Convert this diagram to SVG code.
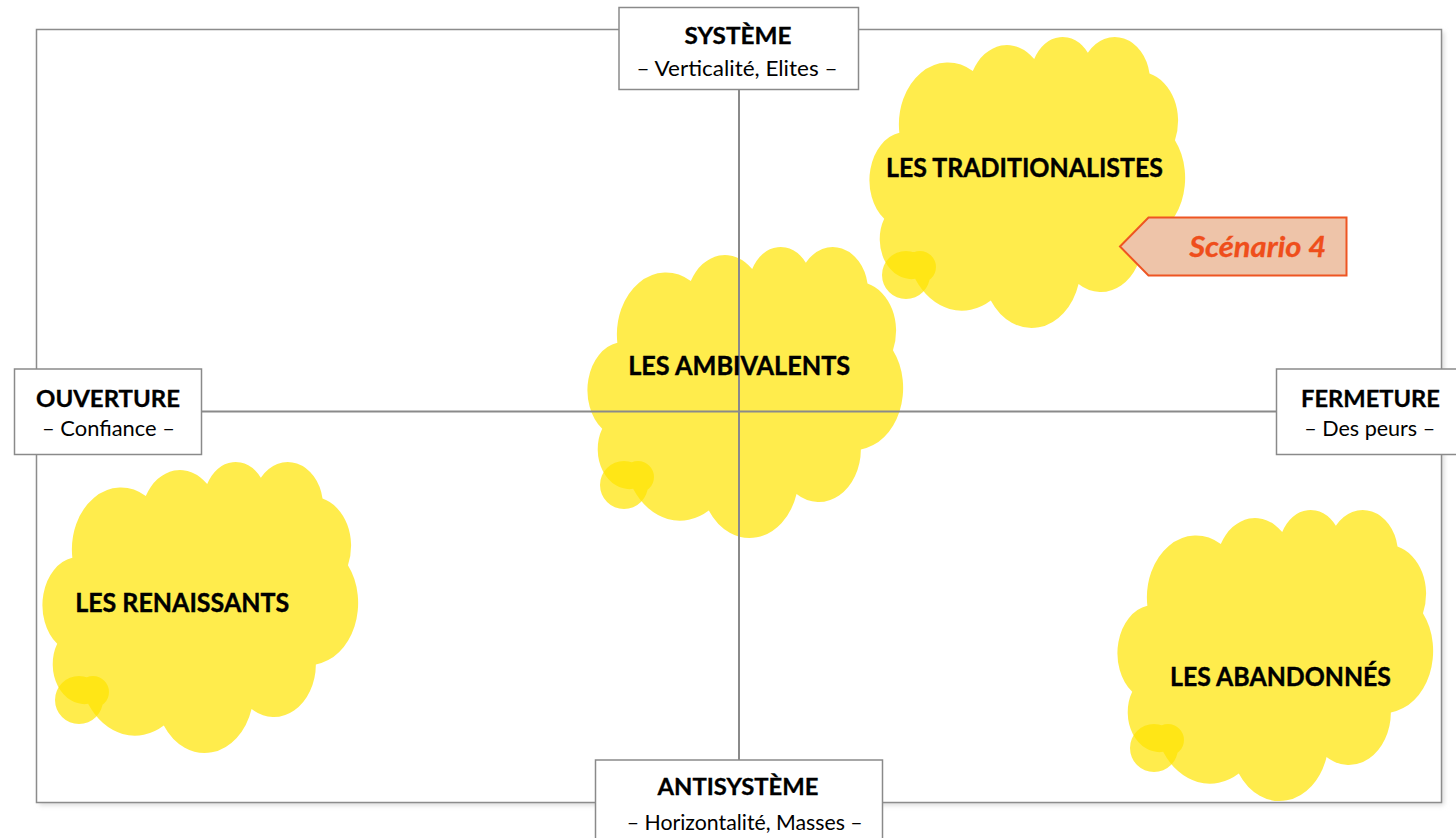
<svg xmlns="http://www.w3.org/2000/svg" xmlns:xlink="http://www.w3.org/1999/xlink" width="1456" height="838" viewBox="0 0 1456 838">
  <style>
    .frame { fill: #ffffff; stroke: #8c8c8c; stroke-width: 1.5; }
    .axis { stroke: #8a8a8a; stroke-width: 2; fill: none; }
    .box { fill: #ffffff; stroke: #8a8a8a; stroke-width: 1.5; }
    .title { font-family: Lato, "Open Sans", "Liberation Sans", sans-serif; font-weight: 700; font-size: 23px; fill: #000000; stroke: #000000; stroke-width: 0.3; text-anchor: middle; }
    .sub { font-family: Lato, "Open Sans", "Liberation Sans", sans-serif; font-weight: 400; font-size: 21px; fill: #000000; text-anchor: middle; }
    .cloud { fill: #ffe400; fill-opacity: 0.7; }
    .label { font-family: Lato, "Open Sans", "Liberation Sans", sans-serif; font-weight: 700; font-size: 26.5px; fill: #000000; stroke: #000000; stroke-width: 0.4; text-anchor: middle; }
    .tag { fill: #eec4a9; stroke: #ee5522; stroke-width: 2; }
    .tagtext { font-family: Lato, "Open Sans", "Liberation Sans", sans-serif; font-weight: 700; font-style: italic; font-size: 29px; fill: #ef4e1b; stroke: #ef4e1b; stroke-width: 0.3; text-anchor: middle; }
  </style>
  <defs>
    <!-- cloud outline, 314 x 291 local box -->
    <path id="cloudShape" d="M28.35 96.80 A49.08 61.90 0 0 1 101.79 35.04 A38.76 48.95 0 0 1 163.22 23.12 A31.73 40.05 0 0 1 216.84 16.71 A35.30 44.42 0 0 1 278.52 37.55 A38.76 48.99 0 0 1 303.96 104.13 A49.24 62.11 0 0 1 271.88 203.44 A42.05 52.99 0 0 1 207.56 247.96 A49.08 62.07 0 0 1 119.80 264.49 A56.11 71.02 0 0 1 44.11 242.86 A31.69 39.86 0 0 1 13.19 182.87 A36 48 0 0 1 28.35 96.80 Z"/>
    <!-- small thought bubble at the lower left of each cloud -->
    <path id="bubbleShape" d="M11 239 a24 24 0 1 0 48 0 a24 24 0 1 0 -48 0 Z M33 231 a16 16 0 1 0 32 0 a16 16 0 1 0 -32 0 Z"/>
    <filter id="soft" x="-5%" y="-5%" width="110%" height="110%">
      <feGaussianBlur stdDeviation="2.5"/>
    </filter>
  </defs>

  <!-- outer frame -->
  <g id="frame">
    <rect x="39" y="32" width="1405" height="773" fill="#d8d8d8" filter="url(#soft)"/>
    <rect class="frame" x="36.5" y="29.5" width="1405" height="773"/>
  </g>

  <!-- clouds -->
  <g id="cloud-traditionalistes" transform="translate(871,36)">
    <use xlink:href="#cloudShape" class="cloud"/>
    <use xlink:href="#bubbleShape" class="cloud"/>
  </g>
  <g id="cloud-ambivalents" transform="translate(589,246)">
    <use xlink:href="#cloudShape" class="cloud"/>
    <use xlink:href="#bubbleShape" class="cloud"/>
  </g>
  <g id="cloud-renaissants" transform="translate(44,461)">
    <use xlink:href="#cloudShape" class="cloud"/>
    <use xlink:href="#bubbleShape" class="cloud"/>
  </g>
  <g id="cloud-abandonnes" transform="translate(1119,509)">
    <use xlink:href="#cloudShape" class="cloud"/>
    <use xlink:href="#bubbleShape" class="cloud"/>
  </g>

  <!-- axes -->
  <g id="connectors">
    <line class="axis" x1="739" y1="90" x2="739" y2="760"/>
    <line class="axis" x1="202" y1="411.5" x2="1277" y2="411.5"/>
  </g>

  <!-- axis end boxes -->
  <g id="node-systeme">
    <rect class="box" x="619" y="7.5" width="239.5" height="82"/>
    <text class="title" x="738" y="44" textLength="107" lengthAdjust="spacingAndGlyphs">SYSTÈME</text>
    <text class="sub" x="737" y="75.5" textLength="201" lengthAdjust="spacingAndGlyphs">– Verticalité, Elites –</text>
  </g>
  <g id="node-ouverture">
    <rect class="box" x="14.5" y="369" width="187" height="85.5"/>
    <text class="title" x="108" y="406.5" textLength="144" lengthAdjust="spacingAndGlyphs">OUVERTURE</text>
    <text class="sub" x="108.5" y="436" textLength="133" lengthAdjust="spacingAndGlyphs">– Confiance –</text>
  </g>
  <g id="node-fermeture">
    <rect class="box" x="1276.5" y="369" width="188" height="85.5"/>
    <text class="title" x="1370.5" y="406.5" textLength="139" lengthAdjust="spacingAndGlyphs">FERMETURE</text>
    <text class="sub" x="1369.7" y="436" textLength="131" lengthAdjust="spacingAndGlyphs">– Des peurs –</text>
  </g>
  <g id="node-antisysteme">
    <rect class="box" x="595.5" y="760" width="287" height="85"/>
    <text class="title" x="738" y="794.5" textLength="161" lengthAdjust="spacingAndGlyphs">ANTISYSTÈME</text>
    <text class="sub" x="744.7" y="830" textLength="236" lengthAdjust="spacingAndGlyphs">– Horizontalité, Masses –</text>
  </g>

  <!-- scenario tag -->
  <g id="node-scenario4">
    <polygon class="tag" points="1120,246.5 1148.5,217.5 1346.5,217.5 1346.5,275.5 1148.5,275.5"/>
    <text class="tagtext" x="1257.7" y="257" textLength="137" lengthAdjust="spacingAndGlyphs">Scénario 4</text>
  </g>

  <!-- cloud labels -->
  <g id="label-traditionalistes">
    <text class="label" x="1024.5" y="177" textLength="277" lengthAdjust="spacingAndGlyphs">LES TRADITIONALISTES</text>
  </g>
  <g id="label-ambivalents">
    <text class="label" x="739.2" y="374.5" textLength="222" lengthAdjust="spacingAndGlyphs">LES AMBIVALENTS</text>
  </g>
  <g id="label-renaissants">
    <text class="label" x="182.2" y="611.5" textLength="214" lengthAdjust="spacingAndGlyphs">LES RENAISSANTS</text>
  </g>
  <g id="label-abandonnes">
    <text class="label" x="1280.5" y="686" textLength="221" lengthAdjust="spacingAndGlyphs">LES ABANDONNÉS</text>
  </g>
</svg>
